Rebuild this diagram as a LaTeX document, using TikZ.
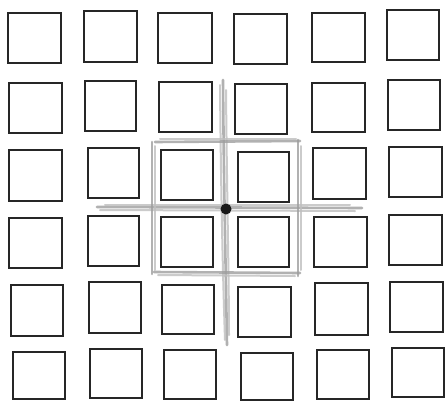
\documentclass[tikz,border=0pt]{standalone}
\begin{document}
\begin{tikzpicture}[x=1pt,y=-1pt,
  box/.style={draw=black!85,line width=2.9pt,fill=white},
  sketch/.style={draw=black!38,line width=2.6pt,line cap=round,opacity=0.8},
  sketchlight/.style={draw=black!25,line width=2pt,line cap=round,opacity=0.8}]
\useasboundingbox[fill=white] (0,0) rectangle (445,402);
% hand-drawn gray cross and frame
\draw[sketch] (223,80) .. controls (224,200) and (226,280) .. (227,345);
\draw[sketchlight] (220,85) .. controls (221,200) and (223,280) .. (225,340);
\draw[sketchlight] (226,90) .. controls (227,200) and (229,280) .. (229,335);
\draw[sketch] (97,207) -- (362,208);
\draw[sketchlight] (100,210) -- (355,211);
\draw[sketchlight] (105,205) -- (350,205);
\draw[sketch] (152,142) -- (152,274);
\draw[sketchlight] (155,146) -- (155,270);
\draw[sketch] (298,140) -- (298,276);
\draw[sketchlight] (301,146) -- (301,270);
\draw[sketch] (155,142) -- (300,141);
\draw[sketchlight] (160,139) -- (296,139);
\draw[sketch] (154,272) -- (300,273);
\draw[sketchlight] (158,275) -- (295,276);
% squares
\foreach \a/\b/\c/\d in {
  8/13/61/63, 84/11/137/62, 158/13/212/63, 234/14/287/64, 312/13/365/62, 387/10/439/60,
  9/83/62/133, 85/81/136/131, 159/82/212/132, 235/84/287/134, 312/83/365/132, 388/80/440/130,
  9/150/62/201, 88/148/139/198, 161/150/213/200, 238/152/289/202, 313/148/366/199, 389/147/442/197,
  9/218/62/268, 88/216/139/266, 161/217/213/267, 238/217/289/267, 314/217/367/267, 389/215/442/265,
  11/285/63/336, 89/282/141/333, 162/285/214/334, 238/287/291/337, 315/283/368/335, 390/282/443/332,
  13/352/65/399, 90/349/142/398, 164/350/216/399, 241/353/293/400, 317/350/369/399, 392/348/444/397}
  \draw[box] (\a,\b) rectangle (\c,\d);
% centre dot
\fill[black!90] (226,209) circle (5.5);
\end{tikzpicture}
\end{document}
